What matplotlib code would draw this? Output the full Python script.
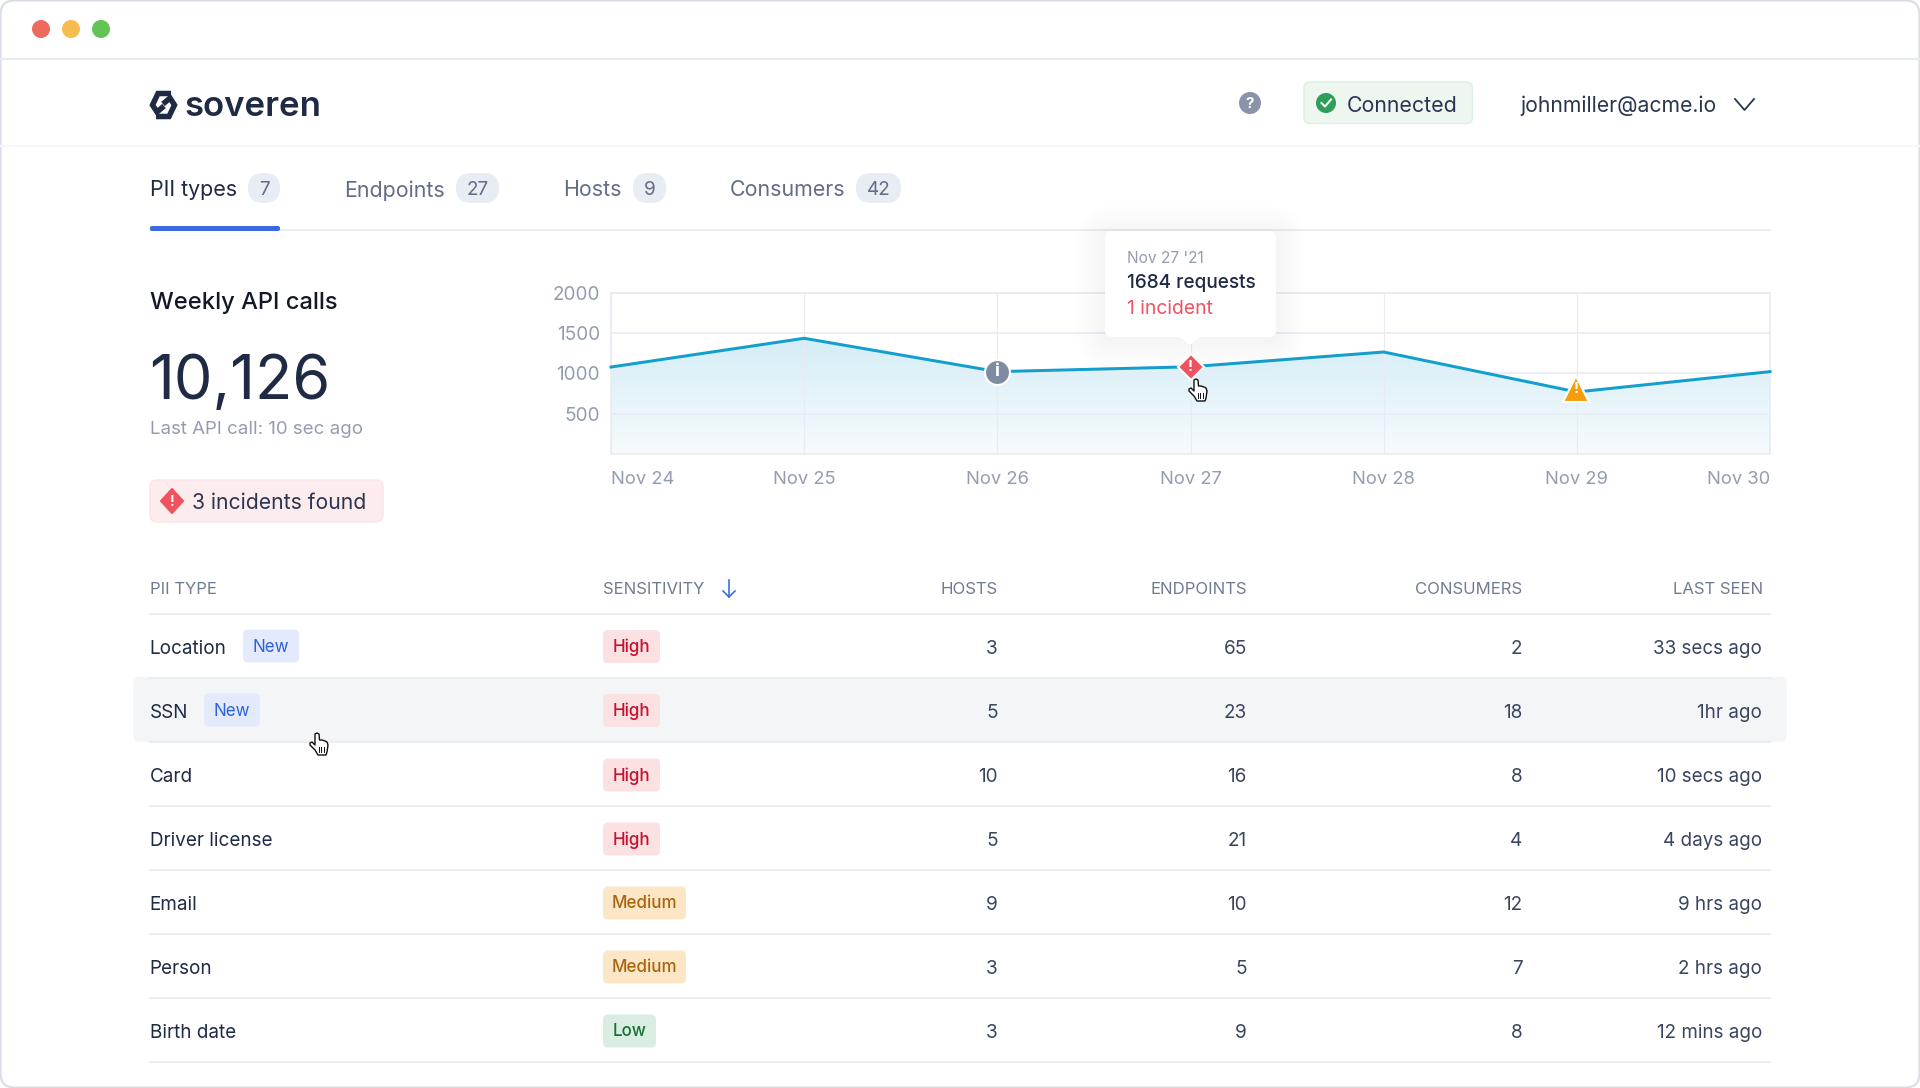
import numpy as np
from matplotlib import pyplot as plt
from matplotlib.patches import FancyBboxPatch, Circle, Polygon
from matplotlib.transforms import offset_copy

plt.rcParams['font.family'] = ['Inter', 'DejaVu Sans']

# chart data
days = ['Nov 24', 'Nov 25', 'Nov 26', 'Nov 27', 'Nov 28', 'Nov 29', 'Nov 30']
requests = [1077, 1433, 1020, 1080, 1263, 768, 1020]
y_ticks = [500, 1000, 1500, 2000]

# table data
pii_types = ['Location', 'SSN', 'Card', 'Driver license', 'Email', 'Person', 'Birth date']
is_new = [True, True, False, False, False, False, False]
sensitivity = ['High', 'High', 'High', 'High', 'Medium', 'Medium', 'Low']
hosts = [3, 5, 10, 5, 9, 3, 3]
endpoints = [65, 23, 16, 21, 10, 5, 9]
consumers = [2, 18, 8, 4, 12, 7, 8]
last_seen = ['33 secs ago', '1hr ago', '10 secs ago', '4 days ago', '9 hrs ago', '2 hrs ago', '12 mins ago']
headers = ['HOSTS', 'ENDPOINTS', 'CONSUMERS', 'LAST SEEN']

tabs = ['PII types', 'Endpoints', 'Hosts', 'Consumers']
tab_counts = [7, 27, 9, 42]

DARK = '#1f2a44'
GREY = '#939db1'
LINE = '#e9edf4'
RED = '#f0525f'


def fs(px):
    return px * 0.72


def rrect(ax, x0, y0, x1, y1, r, fc, ec='none', lw=0, z=2, alpha=None):
    p = FancyBboxPatch((x0 + r, y0 + r), x1 - x0 - 2 * r, y1 - y0 - 2 * r,
                       boxstyle='round,pad=%s,rounding_size=%s' % (r, r),
                       fc=fc, ec=ec, lw=lw, zorder=z, alpha=alpha)
    ax.add_patch(p)
    return p


def txt(ax, x, y, s, px, color=DARK, ha='left', weight='normal', z=5):
    return ax.text(x, y, s, fontsize=fs(px), color=color, ha=ha, va='center_baseline',
                   fontweight=weight, zorder=z)


def hand(ax, x, y):
    # little pointer cursor, x,y is the fingertip
    pts = [(0, 0), (2, -1), (4, 0), (4.5, 6), (7, 6), (10, 7), (12, 8), (13, 11), (12, 18), (11, 21),
           (3, 21), (0, 16), (-5, 11), (-5, 9), (-3, 8), (0, 11)]
    ax.add_patch(Polygon([(x + a, y + b) for a, b in pts], closed=True, fc='white', ec='#111111',
                         lw=1.0, joinstyle='round', zorder=9))
    for dx in (3.5, 6, 8.5):
        ax.plot([x + dx, x + dx], [y + 13, y + 18], color='#111111', lw=0.7, zorder=10)


fig = plt.figure(figsize=(19.2, 10.88), dpi=100, facecolor='white')

ui = fig.add_axes([0, 0, 1, 1], zorder=1)
ui.set_xlim(0, 1920)
ui.set_ylim(1088, 0)
ui.axis('off')

# window
rrect(ui, 0.5, 0.5, 1919.5, 1087.5, 14, 'white', ec='#d9dde7', lw=1.5, z=0)
ui.plot([1, 1919], [59, 59], color='#e6eaf1', lw=1.5)
ui.plot([1, 1919], [146, 146], color='#f5f6f9', lw=1.5)
for cx, c in zip([41, 71, 101], ['#ee6a5f', '#f5bd4f', '#61c454']):
    ui.add_patch(Circle((cx, 29), 9, fc=c, ec='none'))

# logo
ui.plot([171, 158, 152.5, 157, 164], [93.5, 93.5, 105, 112, 106], color=DARK, lw=fs(5.5),
        solid_joinstyle='miter', solid_capstyle='butt')
ui.plot([156, 169, 174.5, 170, 163], [116.5, 116.5, 105, 98, 104], color=DARK, lw=fs(5.5),
        solid_joinstyle='miter', solid_capstyle='butt')
txt(ui, 184.5, 104, 'soveren', 34.8, weight='semibold')

# top right
ui.add_patch(Circle((1250, 103), 11, fc='#8a94a8', ec='none'))
txt(ui, 1250, 103, '?', 15, color='white', ha='center', weight='bold')
rrect(ui, 1304, 82, 1472.5, 123.5, 6, '#edf6ef', ec='#dcefe1', lw=1.0)
ui.add_patch(Circle((1326, 103), 10, fc='#2f9e5b', ec='none', zorder=3))
ui.plot([1321.5, 1325, 1331], [103, 106.5, 99.5], color='white', lw=fs(2), zorder=4)
txt(ui, 1346.5, 103.5, 'Connected', 21.3, color='#2a3550')
txt(ui, 1520.5, 103.5, 'johnmiller@acme.io', 21.2, color='#2a3550')
ui.plot([1735, 1744.5, 1754], [99, 110, 99], color='#2a3550', lw=fs(1.8))

# tabs
ui.plot([150, 1770], [229.5, 229.5], color=LINE, lw=1.5)
rrect(ui, 150, 226, 280, 231, 2, '#3a6ae0', z=3)
tab_x = [149.5, 344, 563, 730]
pill_x = [(248, 280), (456, 499), (633, 666), (856, 901)]
for i, t in enumerate(tabs):
    txt(ui, tab_x[i], 188.5, t, 21.4, color=DARK if i == 0 else '#626e87')
    x0, x1 = pill_x[i]
    rrect(ui, x0, 173, x1, 203, 15, '#e8ecf3')
    txt(ui, (x0 + x1) / 2, 188, str(tab_counts[i]), 19, color='#626e87', ha='center')

# left panel
txt(ui, 149.5, 300.5, 'Weekly API calls', 23.7, color='#111827', weight='medium')
txt(ui, 149, 377, '10,126', 61.2)
txt(ui, 149.5, 428, 'Last API call: 10 sec ago', 18.7, color=GREY)
rrect(ui, 150, 480, 383, 522, 7, '#fdecee', ec='#fce4e7', lw=1.0)
ui.add_patch(Polygon([(172, 489), (183, 501), (172, 513), (161, 501)], closed=True, fc=RED, ec=RED,
                     lw=1.5, joinstyle='round', zorder=3))
txt(ui, 172, 501, '!', 14, color='white', ha='center', weight='bold')
txt(ui, 192, 501, '3 incidents found', 21.1, color='#2a3550')

# table
rrect(ui, 133.5, 677, 1786.5, 742, 6, '#f4f5f7', z=1)
row_lines = [614, 677.5, 741.5, 805.5, 869.5, 933.5, 997.5, 1061.5]
for yl in row_lines:
    ui.plot([150, 1770], [yl, yl], color=LINE, lw=1.5, zorder=1.5)

hdr_y = 587.5
txt(ui, 149.5, hdr_y, 'PII TYPE', 16.7, color='#6f7b93')
txt(ui, 602.5, hdr_y, 'SENSITIVITY', 16.7, color='#6f7b93')
ui.plot([729, 729], [580, 597], color='#3a6ae0', lw=fs(1.6))
ui.plot([723, 729, 735], [591, 597, 591], color='#3a6ae0', lw=fs(1.6))
col_right = [998, 1246.5, 1522, 1763]
for xr, h in zip(col_right, headers):
    txt(ui, xr, hdr_y, h, 16.7, color='#6f7b93', ha='right')

badge_w = {'High': 57, 'Medium': 83, 'Low': 53}
badge_fc = {'High': '#fce1e3', 'Medium': '#fce6c6', 'Low': '#d9ede0'}
badge_tc = {'High': '#c8102e', 'Medium': '#a9660f', 'Low': '#16703a'}
new_x = {'Location': 243, 'SSN': 204}
row_y = [646.5, 710.5, 775, 839, 903, 967, 1031]
for i, name in enumerate(pii_types):
    y = row_y[i]
    txt(ui, 149.5, y, name, 18.9)
    if is_new[i]:
        x0 = new_x[name]
        rrect(ui, x0, y - 17, x0 + 56, y + 16, 5, '#e2eafb')
        txt(ui, x0 + 28, y - 1, 'New', 17, color='#2f62d8', ha='center')
    s = sensitivity[i]
    rrect(ui, 603, y - 16.5, 603 + badge_w[s], y + 16.5, 5, badge_fc[s])
    txt(ui, 603 + badge_w[s] / 2, y - 1, s, 17, color=badge_tc[s], ha='center', weight='medium')
    txt(ui, 998, y, str(hosts[i]), 19, color='#3a4560', ha='right')
    txt(ui, 1247, y, str(endpoints[i]), 19, color='#3a4560', ha='right')
    txt(ui, 1522.5, y, str(consumers[i]), 19, color='#3a4560', ha='right')
    txt(ui, 1762, y, last_seen[i], 18.8, color='#3a4560', ha='right')

# chart
W, H = 1920.0, 1088.0
cx0, cx1, cy0, cy1 = 611.0, 1770.0, 292.5, 454.0
ax = fig.add_axes([cx0 / W, 1 - cy1 / H, (cx1 - cx0) / W, (cy1 - cy0) / H], zorder=2)
ax.patch.set_alpha(0)
xs = np.arange(len(days))

poly = ax.fill_between(xs, requests, 0, facecolor='none', edgecolor='none')
ramp = np.linspace(0, 1, 64)[:, None, None]
grad = np.array([0.835, 0.93, 0.965]) * (1 - ramp) + np.array([0.965, 0.984, 0.992]) * ramp
img = ax.imshow(grad, extent=[0, 6, 0, max(requests)], aspect='auto', zorder=1)
clip = Polygon(poly.get_paths()[0].vertices, closed=True, transform=ax.transData)
img.set_clip_path(clip)

ax.set_xlim(0, 6)
ax.set_ylim(0, 2000)
ax.set_yticks(y_ticks)
ax.set_xticks(xs)
ax.set_xticklabels(days)
ax.xaxis.get_majorticklabels()[0].set_ha('left')
ax.xaxis.get_majorticklabels()[-1].set_ha('right')
ax.tick_params(axis='x', length=0, labelsize=fs(18.4), labelcolor=GREY, pad=fs(17.5))
ax.tick_params(axis='y', length=0, labelsize=fs(19), labelcolor=GREY, pad=fs(11))
ax.grid(axis='y', color='#e8ebf4', lw=1.2, zorder=2)
ax.grid(axis='x', color='#e8ebf4', lw=0.8, zorder=2)
ax.set_axisbelow(False)
for sp in ax.spines.values():
    sp.set_color('#e8ebf4')
    sp.set_linewidth(1.2)

ax.plot(xs, requests, color='#129fce', lw=fs(3), zorder=3, clip_on=False, solid_joinstyle='miter')

# incident markers sit on the line
ax.plot(xs[2], requests[2], marker='o', ms=fs(25), mfc='#7f8aa3', mec='white', mew=1.5, zorder=4, clip_on=False)
ax.text(xs[2], requests[2], 'i', color='white', fontsize=fs(18), fontweight='bold', ha='center', va='center', zorder=5)
ax.plot(xs[3], requests[3], marker='D', ms=fs(18), mfc=RED, mec='white', mew=1.5, zorder=4, clip_on=False)
ax.text(xs[3], requests[3], '!', color='white', fontsize=fs(15), fontweight='bold', ha='center', va='center', zorder=5)
# the warning triangle sits a bit above its point
up = offset_copy(ax.transData, fig=fig, x=-1, y=3, units='dots')
ax.plot(xs[5], requests[5], marker='^', ms=fs(26), mfc='#f59e0b', mec='white', mew=1.5, zorder=4, clip_on=False, transform=up)
ax.text(xs[5], requests[5], '!', color='white', fontsize=fs(15), fontweight='bold', ha='center', va='center', zorder=5, transform=up)

# overlay: tooltip and cursors
top = fig.add_axes([0, 0, 1, 1], zorder=3)
top.set_xlim(0, 1920)
top.set_ylim(1088, 0)
top.axis('off')
top.patch.set_alpha(0)
for g in range(2, 30, 3):
    rrect(top, 1105 - g, 231 - g + 3, 1276 + g, 337 + g + 3, 8 + g, '#5a6a90', z=1, alpha=0.005)
top.add_patch(Polygon([(1178, 336), (1202, 336), (1190, 345)], closed=True, fc='white', ec='none', zorder=2))
rrect(top, 1105, 231, 1276, 337, 7, 'white', z=2)
txt(top, 1127, 257, "Nov 27 '21", 15.5, color=GREY)
txt(top, 1127, 281.5, '1684 requests', 19, weight='medium')
txt(top, 1127, 307.5, '1 incident', 19.3, color=RED)
hand(top, 1194, 380)
hand(top, 315, 734)

fig.savefig('out.png', dpi=100)
